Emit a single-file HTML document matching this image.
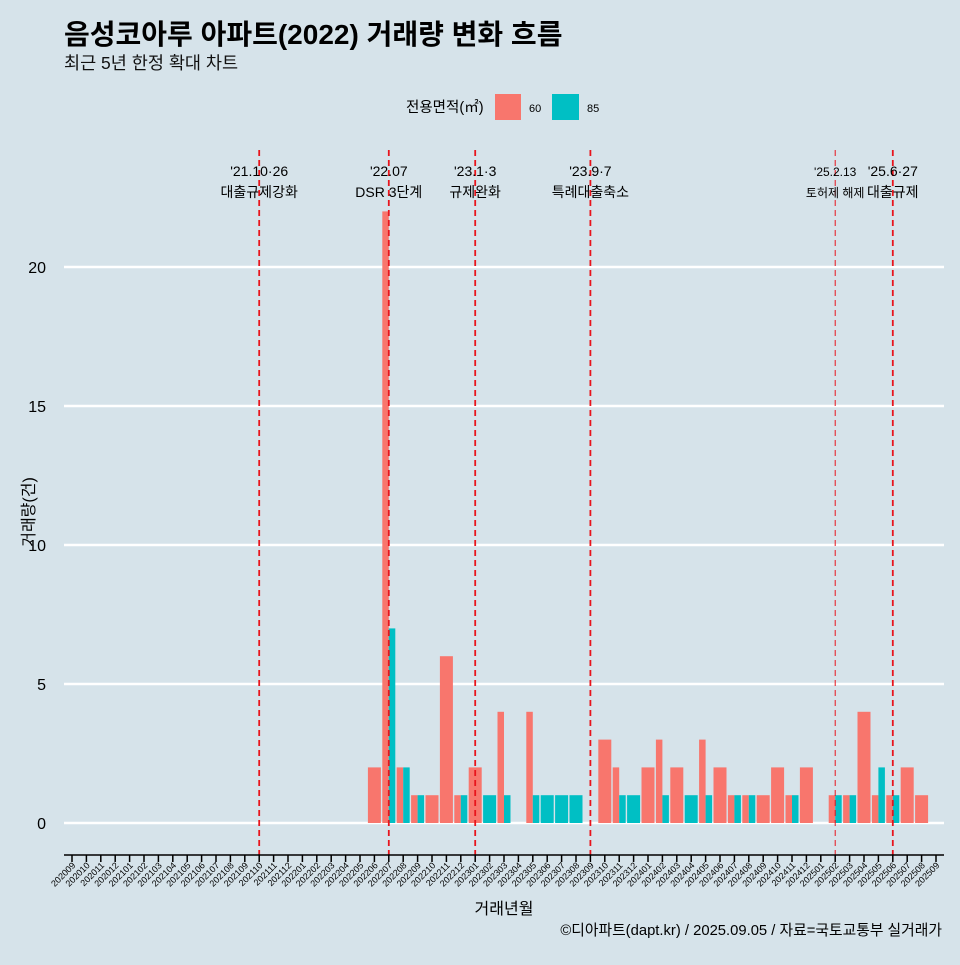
<!DOCTYPE html>
<html><head><meta charset="utf-8"><style>
body{margin:0;background:#d6e3ea;}
svg text{font-family:"Liberation Sans","Noto Sans CJK KR",sans-serif;}
</style></head><body>
<svg id="c" width="960" height="960" xmlns="http://www.w3.org/2000/svg">
<rect width="960" height="960" fill="#d6e3ea"/>
<text x="64" y="44" font-size="28" font-weight="bold" fill="#000">음성코아루 아파트(2022) 거래량 변화 흐름</text>
<text x="64" y="69" font-size="17.5" fill="#111">최근 5년 한정 확대 차트</text>
<g>
<text x="406" y="112" font-size="14.5">전용면적(㎡)</text>
<rect x="495" y="94" width="26" height="26" fill="#f8766d"/>
<text x="529" y="112" font-size="11">60</text>
<rect x="552" y="94" width="27" height="26" fill="#00bfc4"/>
<text x="587" y="112" font-size="11">85</text>
</g>
<g id="grid"></g><g id="bars"></g><g id="events"></g><g id="axis"></g>
<text x="504" y="914" font-size="16" text-anchor="middle">거래년월</text>
<text transform="translate(34,512) rotate(-90)" font-size="16" text-anchor="middle">거래량(건)</text>
<text x="942" y="935" font-size="14.8" text-anchor="end">©디아파트(dapt.kr) / 2025.09.05 / 자료=국토교통부 실거래가</text>
</svg>
<script>
const months=[];for(let y=2020;y<=2025;y++)for(let m=1;m<=12;m++){const k=y*100+m;if(k>=202009&&k<=202509)months.push(String(k));}
const valueMonths=["202206","202207","202208","202209","202210","202211","202212","202301","202302","202303","202305","202306","202307","202308","202310","202311","202312","202401","202402","202403","202404","202405","202406","202407","202408","202409","202410","202411","202412","202502","202503","202504","202505","202506","202507","202508"];
const s60=[2,22,2,1,1,6,1,2,0,4,4,0,0,0,3,2,0,2,3,2,0,3,2,1,1,1,2,1,2,1,1,4,1,1,2,1];
const s85=[0,7,2,1,0,0,1,0,1,1,1,1,1,1,0,1,1,0,1,0,1,1,0,1,1,0,0,1,0,1,1,0,2,1,0,0];
const yTicks=[0,5,10,15,20];
const evMonths=["202110","202207","202301","202309","202502","202506"];
const evL1=["'21.10·26","'22.07","'23.1·3","'23.9·7","'25.2.13","'25.6·27"];
const evL2=["대출규제강화","DSR 3단계","규제완화","특례대출축소","토허제 해제","대출규제"];
const NS="http://www.w3.org/2000/svg";
const x=i=>72+i*14.4, y=v=>823-v*27.8;
function mk(p,t,a){const e=document.createElementNS(NS,t);for(const k in a)e.setAttribute(k,a[k]);document.getElementById(p).appendChild(e);return e;}
yTicks.forEach(v=>{
 const l=mk('grid','line',{x1:64,x2:944,y1:y(v),y2:y(v),stroke:'#fff','stroke-width':2.5});
 
 
 const t=mk('grid','text',{x:46,y:y(v)+6,'font-size':16,'text-anchor':'end'});t.textContent=v;
 
 
});
const bw=13;
valueMonths.forEach((m,j)=>{
 const cx=x(months.indexOf(m));const a=s60[j],b=s85[j];
 const segs=[];
 if(a>0&&b>0){segs.push([cx-bw/2,a,'#f8766d','bar-60-'+m]);segs.push([cx,b,'#00bfc4','bar-85-'+m]);}
 else if(a>0)segs.push([cx-bw/2,a,'#f8766d','bar-60-'+m,1]);
 else if(b>0)segs.push([cx-bw/2,b,'#00bfc4','bar-85-'+m,1]);
 segs.forEach(s=>{const w=s[4]?bw:bw/2;
  const r=mk('bars','rect',{x:s[0],y:y(s[1]),width:w,height:y(0)-y(s[1]),fill:s[2]});
  
  });
});
evMonths.forEach((m,i)=>{
 const ex=x(months.indexOf(m));
 const l=mk('events','line',{x1:ex,x2:ex,y1:150,y2:855,stroke:'#e8141c','stroke-width':i==4?1:1.8,'stroke-dasharray':'6,4'});
 
 
 const fs=i==4?12:14;
 const t1=mk('events','text',{x:ex,y:176,'font-size':fs,'text-anchor':'middle'});t1.textContent=evL1[i];
 
 
 const t2=mk('events','text',{x:ex,y:197,'font-size':fs,'text-anchor':'middle'});t2.textContent=evL2[i];
 
 
});
const ax=mk('axis','line',{x1:64,x2:944,y1:855,y2:855,stroke:'#000','stroke-width':1.5});


months.forEach((m,i)=>{
 const tk=mk('axis','line',{x1:x(i),x2:x(i),y1:855,y2:862,stroke:'#000','stroke-width':1.5});
 
 
 const t=mk('axis','text',{transform:`translate(${x(i)+4},866) rotate(-45)`,'font-size':9,'text-anchor':'end'});t.textContent=m;
 
 
});
</script>
</body></html>
